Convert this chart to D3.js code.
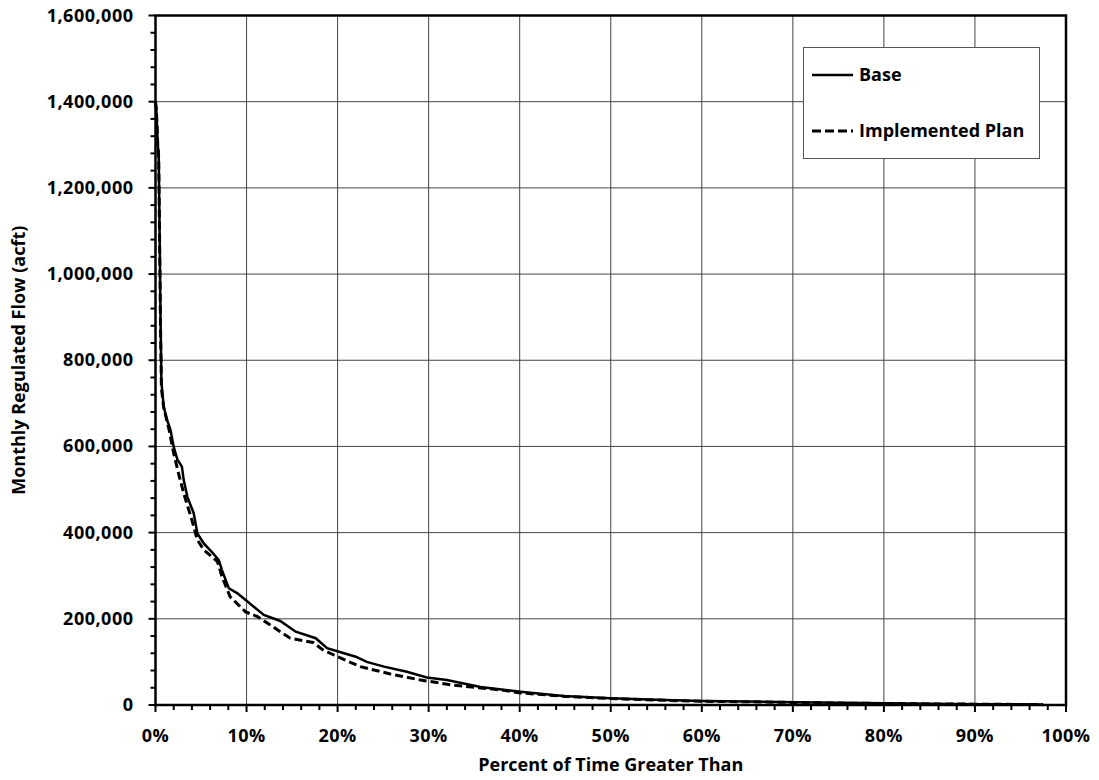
<!DOCTYPE html>
<html>
<head>
<meta charset="utf-8">
<script src="https://cdn.jsdelivr.net/npm/d3@7"></script>
<style>
  body { margin: 0; background: #fff; }
  text { font-family: "Open Sans", "Noto Sans", sans-serif; font-weight: bold; fill: #000; }
</style>
</head>
<body>
<div id="chart"></div>
<script>
// exceedance percent (x) and monthly regulated flow in acft (y)
const basePct = [0, 0.1, 0.25, 0.35, 0.45, 0.55, 0.65, 0.9, 1.3, 1.65, 2.0, 2.4, 2.9, 3.1, 3.5, 4.2, 4.6, 5.3, 6.2, 6.95, 7.3, 8.05, 9.0, 10.1, 11.9, 13.7, 15.4, 17.6, 18.85, 20.7, 22.0, 23.2, 25.1, 27.6, 29.8, 32.0, 35.7, 40.1, 44.8, 50, 55, 60, 65, 70, 75, 80, 85, 90, 95, 97.5];
const baseFlow = [1400000, 1380000, 1300000, 1280000, 1100000, 900000, 750000, 692000, 660000, 638000, 599000, 570000, 553000, 522000, 483000, 445000, 398000, 375000, 355000, 336000, 313000, 271000, 259000, 240000, 209000, 195000, 170000, 155000, 132000, 120000, 112000, 100000, 89000, 77000, 64000, 58000, 42000, 31000, 21000, 15500, 12000, 9000, 8000, 6500, 5000, 4000, 3000, 2000, 1500, 1000];

const planPct = [0, 0.1, 0.25, 0.35, 0.45, 0.55, 0.65, 0.9, 1.5, 2.0, 2.5, 3.1, 4.0, 4.6, 5.3, 6.8, 7.3, 8.2, 9.9, 11.2, 12.3, 13.7, 14.8, 17.3, 18.4, 20.0, 22.5, 25.8, 29.1, 32.7, 37.9, 40.1, 45, 50, 55, 60, 65, 70, 75, 80, 85, 90, 95, 97.5];
const planFlow = [1400000, 1380000, 1300000, 1270000, 1080000, 880000, 735000, 690000, 638000, 584000, 540000, 491000, 429000, 383000, 360000, 333000, 298000, 251000, 216000, 205000, 190000, 170000, 155000, 145000, 128000, 112000, 89000, 72000, 58000, 46000, 35000, 28000, 20000, 15000, 11500, 8500, 7500, 6000, 4500, 3500, 2500, 2000, 1200, 800];

const seriesNames = ["Base", "Implemented Plan"];
const xTicks = [0, 10, 20, 30, 40, 50, 60, 70, 80, 90, 100];
const yTicks = [0, 200000, 400000, 600000, 800000, 1000000, 1200000, 1400000, 1600000];

const width = 1099, height = 780,
    margin = ({top: 15.5, right: 33, bottom: 75, left: 155.5});

const svg = d3.select("#chart").append("svg")
    .attr("width", width).attr("height", height)
    .attr("viewBox", [0, 0, width, height]);

const x = d3.scaleLinear().domain([0, 100]).range([margin.left, width - margin.right]);
const y = d3.scaleLinear().domain([0, 1600000]).range([height - margin.bottom, margin.top]);

// grid
svg.append("g").selectAll("line").data(xTicks.slice(1, -1)).join("line")
    .attr("x1", d => x(d)).attr("x2", d => x(d))
    .attr("y1", y(0)).attr("y2", y(1600000))
    .attr("stroke", "#444").attr("stroke-width", 1);
svg.append("g").selectAll("line").data(yTicks.slice(1, -1)).join("line")
    .attr("x1", x(0)).attr("x2", x(100))
    .attr("y1", d => y(d)).attr("y2", d => y(d))
    .attr("stroke", "#444").attr("stroke-width", 1);

// minor ticks
const xMinor = d3.range(0, 101, 2), yMinor = d3.range(0, 1600001, 40000);
svg.append("g").selectAll("line").data(xMinor).join("line")
    .attr("x1", d => x(d)).attr("x2", d => x(d))
    .attr("y1", y(0)).attr("y2", d => y(0) + (d % 10 === 0 ? 7 : 5))
    .attr("stroke", "#000").attr("stroke-width", 2);
svg.append("g").selectAll("line").data(yMinor).join("line")
    .attr("x1", d => x(0) - (d % 200000 === 0 ? 7 : 5)).attr("x2", x(0))
    .attr("y1", d => y(d)).attr("y2", d => y(d))
    .attr("stroke", "#000").attr("stroke-width", 2);

// tick labels
svg.append("g").selectAll("text").data(xTicks).join("text")
    .attr("x", d => x(d)).attr("y", y(0) + 37)
    .attr("text-anchor", "middle").attr("font-size", 18)
    .attr("letter-spacing", 0.5)
    .text(d => d + "%");
svg.append("g").selectAll("text").data(yTicks).join("text")
    .attr("x", x(0) - 22).attr("y", d => y(d) + 6)
    .attr("text-anchor", "end").attr("font-size", 18)
    .attr("letter-spacing", 0.5)
    .text(d => d3.format(",")(d));

// axis titles
svg.append("text")
    .attr("x", (x(0) + x(100)) / 2).attr("y", 771)
    .attr("text-anchor", "middle").attr("font-size", 18)
    .text("Percent of Time Greater Than");
svg.append("text")
    .attr("transform", `translate(25, ${(y(0) + y(1600000)) / 2}) rotate(-90)`)
    .attr("text-anchor", "middle").attr("font-size", 18)
    .text("Monthly Regulated Flow (acft)");

// lines
const line = d3.line().x(d => x(d[0])).y(d => y(d[1]));
svg.append("path")
    .datum(planPct.map((p, i) => [p, planFlow[i]]))
    .attr("fill", "none").attr("stroke", "#000").attr("stroke-width", 3)
    .attr("stroke-dasharray", "8,4").attr("d", line);
svg.append("path")
    .datum(basePct.map((p, i) => [p, baseFlow[i]]))
    .attr("fill", "none").attr("stroke", "#000").attr("stroke-width", 2.5)
    .attr("d", line);

// plot frame
svg.append("rect")
    .attr("x", x(0)).attr("y", y(1600000))
    .attr("width", x(100) - x(0)).attr("height", y(0) - y(1600000))
    .attr("fill", "none").attr("stroke", "#000").attr("stroke-width", 2.5);

// legend
const legend = svg.append("g");
legend.append("rect")
    .attr("x", 803.5).attr("y", 47.5).attr("width", 236).attr("height", 111)
    .attr("fill", "#fff").attr("stroke", "#555").attr("stroke-width", 1);
const lg = legend.selectAll("g").data(seriesNames).join("g")
    .attr("transform", (d, i) => `translate(812, ${75 + i * 56})`);
lg.append("line")
    .attr("x1", 0).attr("x2", 41).attr("y1", 0).attr("y2", 0)
    .attr("stroke", "#000").attr("stroke-width", (d, i) => i ? 3 : 2.5)
    .attr("stroke-dasharray", (d, i) => i ? "9,4" : null);
lg.append("text")
    .attr("x", 47).attr("y", 6).attr("font-size", 18)
    .text(d => d);
</script>
</body>
</html>
